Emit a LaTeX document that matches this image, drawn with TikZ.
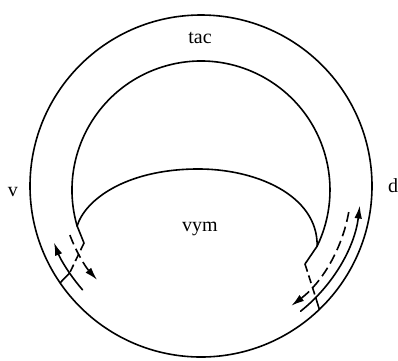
\documentclass[tikz,border=0pt]{standalone}
\usepackage{fontspec}
\setmainfont{Liberation Serif}
\usetikzlibrary{arrows.meta,calc}
\tikzset{
  ln/.style={line width=1.6pt, line cap=round, line join=miter},
  dsh/.style={ln, dash pattern=on 8pt off 4pt, line cap=butt},
  darr/.style={ln, line cap=butt, dash pattern=on 10pt off 5pt, -{Latex[length=13pt,width=7.5pt]}},
  sarr/.style={ln, -{Latex[length=13pt,width=7.5pt]}},
  lbl/.style={inner sep=0pt, anchor=base, font=\fontsize{20}{23}\selectfont}
}
\begin{document}
\begin{tikzpicture}[x=1pt,y=1pt]
\useasboundingbox (0,0) rectangle (398,-360);
\coordinate (C) at (201,-186);
\coordinate (C2) at (201,-190);
% outer circle
\draw[ln] (C) circle (171);
% inner arc of the band
\coordinate (ML) at ($(C2)+(196.2:129)$);
\coordinate (MR) at ($(C2)+(-25.8:129)$);
\draw[ln] (ML) arc[start angle=196.2, end angle=-25.8, radius=129];
% vym dome
\coordinate (VT) at (195,-169);
\draw[ln] (ML) .. controls (85,-200) and (125,-170) .. (VT)
               .. controls (255,-168) and (318,-195) .. (MR);
% kinked boundaries
\coordinate (KL) at (84,-243);
\coordinate (KR) at (305,-264);
\coordinate (TL) at ($(C)+(213.5:157.5)$);
\coordinate (OL) at ($(C)+(214.5:171)$);
\coordinate (TR) at ($(C)+(-44.2:160)$);
\coordinate (OR) at ($(C)+(-46.2:171)$);
\draw[ln] (ML) -- (KL);
\draw[dsh] (KL) -- (TL);
\draw[ln] (TL) -- (OL);
\draw[ln] (MR) -- (KR);
\draw[dsh] (KR) -- (TR);
\draw[ln] (TR) -- (OR);
% arrows
\coordinate (SLs) at ($(C)+(221.2:157.5)$);
\draw[sarr] (SLs) arc[start angle=221.2, end angle=201, radius=157.5];
\coordinate (SRs) at ($(C)+(-51.5:160)$);
\draw[sarr] (SRs) arc[start angle=-51.5, end angle=-7, radius=160];
\coordinate (DLs) at ($(C)+(200.5:140)$);
\draw[darr] (DLs) arc[start angle=200.5, end angle=222.1, radius=140];
\coordinate (DRs) at ($(C)+(-10:150)$);
\draw[darr] (DRs) arc[start angle=-10, end angle=-53, radius=150];
% labels
\node[lbl] (tac) at (200,-43.5) {tac};
\node[lbl] (vym) at (200,-231) {vym};
\node[lbl] (v) at (13,-196) {v};
\node[lbl] (d) at (393,-192) {d};
\end{tikzpicture}
\end{document}
